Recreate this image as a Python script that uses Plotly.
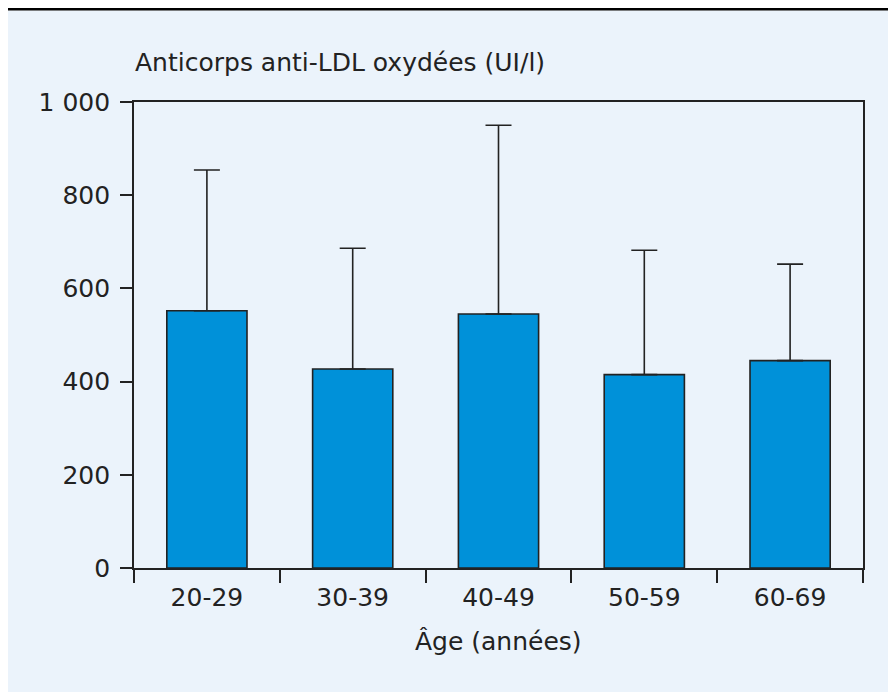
import plotly.graph_objects as go

# data
age_groups = ['20-29', '30-39', '40-49', '50-59', '60-69']
mean_values = [552, 427, 545, 415, 445]
sd_plus = [302, 259, 405, 267, 207]
y_tickvals = [0, 200, 400, 600, 800, 1000]
y_ticktext = ['0', '200', '400', '600', '800', '1 000']

FONT = 'DejaVu Sans'
INK = '#222222'

# the page body adds 8px around the figure, so the figure is 888x685
# plot area in figure pixels: x 126..855, y 94..560
L, T, PW, PH = 126, 94, 729, 466


def px(fx):
	return (fx - L) / PW


def py(fy):
	return (T + PH - fy) / PH


fig = go.Figure()

fig.add_trace(go.Bar(
	x=age_groups, y=mean_values,
	width=0.55,
	marker=dict(color='#0091D9', line=dict(color=INK, width=1.6)),
	error_y=dict(type='data', symmetric=False, array=sd_plus,
		arrayminus=[0] * len(sd_plus), color=INK, thickness=1.6, width=13),
	showlegend=False,
))

fig.update_layout(
	width=888, height=685,
	margin=dict(l=L, r=888 - L - PW, t=T, b=685 - T - PH),
	paper_bgcolor='white',
	plot_bgcolor='white',
	font=dict(family=FONT, size=25, color=INK),
)

fig.update_xaxes(
	range=[-0.5, 4.5],
	showline=True, linecolor=INK, linewidth=1.6, mirror=True,
	ticks='outside', tickson='boundaries', ticklen=13, tickwidth=1.6, tickcolor=INK,
	ticklabelstandoff=6,
	showgrid=False, zeroline=False,
)

fig.update_yaxes(
	range=[0, 1000],
	tickvals=y_tickvals, ticktext=y_ticktext,
	showline=True, linecolor=INK, linewidth=1.6, mirror=True,
	ticks='outside', ticklen=12, tickwidth=1.6, tickcolor=INK,
	ticklabelstandoff=5,
	showgrid=False, zeroline=False,
)

# light blue panel and black rule at the top
fig.add_shape(type='rect', xref='paper', yref='paper',
	x0=px(-1), x1=px(890), y0=py(684), y1=py(2.5),
	fillcolor='#EBF3FB', line=dict(width=0), layer='below')
fig.add_shape(type='rect', xref='paper', yref='paper',
	x0=px(-1), x1=px(890), y0=py(2.5), y1=py(0),
	fillcolor='black', line=dict(width=0))

fig.add_annotation(text='Anticorps anti-LDL oxydées (UI/l)',
	xref='paper', yref='paper', x=px(125), y=py(55),
	xanchor='left', yanchor='middle', showarrow=False)
fig.add_annotation(text='Âge (années)',
	xref='paper', yref='paper', x=0.5, y=py(633),
	xanchor='center', yanchor='middle', showarrow=False)

fig.write_html('out.html')
